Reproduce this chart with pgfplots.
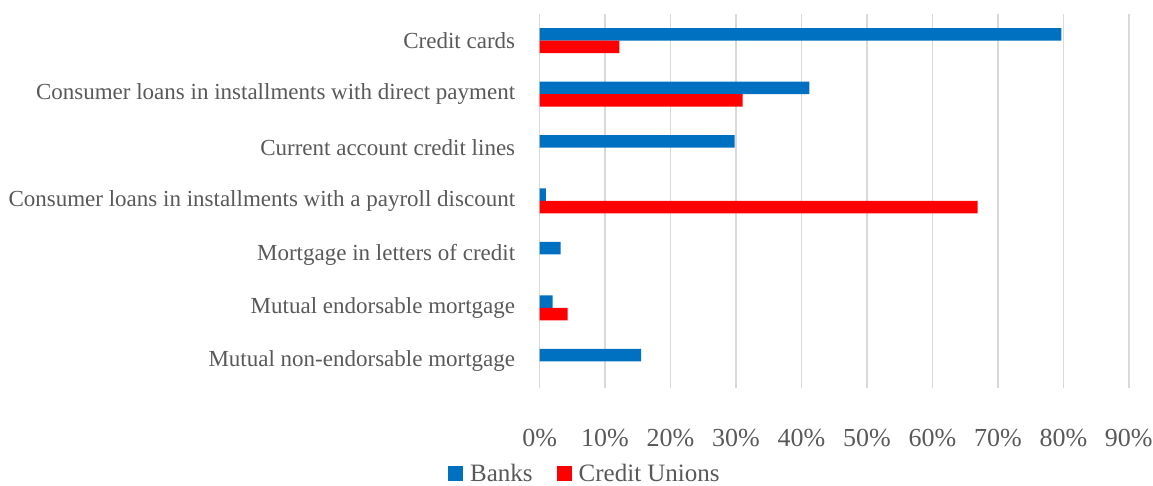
\documentclass[border=0pt]{standalone}
\usepackage{fontspec}
\setmainfont{Liberation Serif}
\usepackage{pgfplots}
\pgfplotsset{compat=1.18}

\definecolor{bankblue}{HTML}{0070C0}
\definecolor{cured}{HTML}{FF0000}
\definecolor{txtgray}{HTML}{595959}
\definecolor{gridgray}{HTML}{D9D9D9}

\begin{document}
\begin{tikzpicture}
\begin{axis}[
    xbar,
    scale only axis,
    width=589.2pt, height=374pt,
    xmin=0, xmax=90,
    ymin=-0.5, ymax=6.5,
    bar width=12.5pt,
    xtick={0,10,...,90},
    xticklabels={0\%,10\%,20\%,30\%,40\%,50\%,60\%,70\%,80\%,90\%},
    ytick={0,...,6},
    yticklabels={
        Mutual non-endorsable mortgage,
        Mutual endorsable mortgage,
        Mortgage in letters of credit,
        Consumer loans in installments with a payroll discount,
        Current account credit lines,
        Consumer loans in installments with direct payment,
        Credit cards},
    xmajorgrids,
    major grid style={gridgray, line width=1.5pt},
    axis line style={draw=none},
    tick style={draw=none},
    xticklabel style={font=\fontsize{26}{30}\selectfont, text=txtgray, anchor=base, yshift=-59pt},
    yticklabel style={font=\fontsize{23}{27}\selectfont, text=txtgray, anchor=east, inner sep=0pt, xshift=-20pt},
    legend style={draw=none, fill=none, inner sep=0pt, at={(0.077,-0.23)}, anchor=center,
        font=\fontsize{25}{28}\selectfont, text=txtgray,
        legend columns=2,
        /tikz/every odd column/.append style={column sep=5pt},
        /tikz/every even column/.append style={column sep=22pt}},
    legend image code/.code={\fill[#1] (0pt,-7pt) rectangle (15pt,8pt);},
]
\addplot[fill=bankblue, draw=none, bar shift=6.25pt] coordinates {
    (79.7,6) (41.2,5) (29.8,4) (0.95,3) (3.2,2) (2.0,1) (15.5,0)
};
\addlegendentry{Banks}
\addplot[fill=cured, draw=none, bar shift=-6.25pt] coordinates {
    (12.2,6) (31.0,5) (66.9,3) (4.3,1)
};
\addlegendentry{Credit Unions}
\end{axis}
\pgfresetboundingbox
\path ([shift={(-539.6pt,-98pt)}]current axis.south west) rectangle ([shift={(24.2pt,14pt)}]current axis.north east);
\end{tikzpicture}
\end{document}
